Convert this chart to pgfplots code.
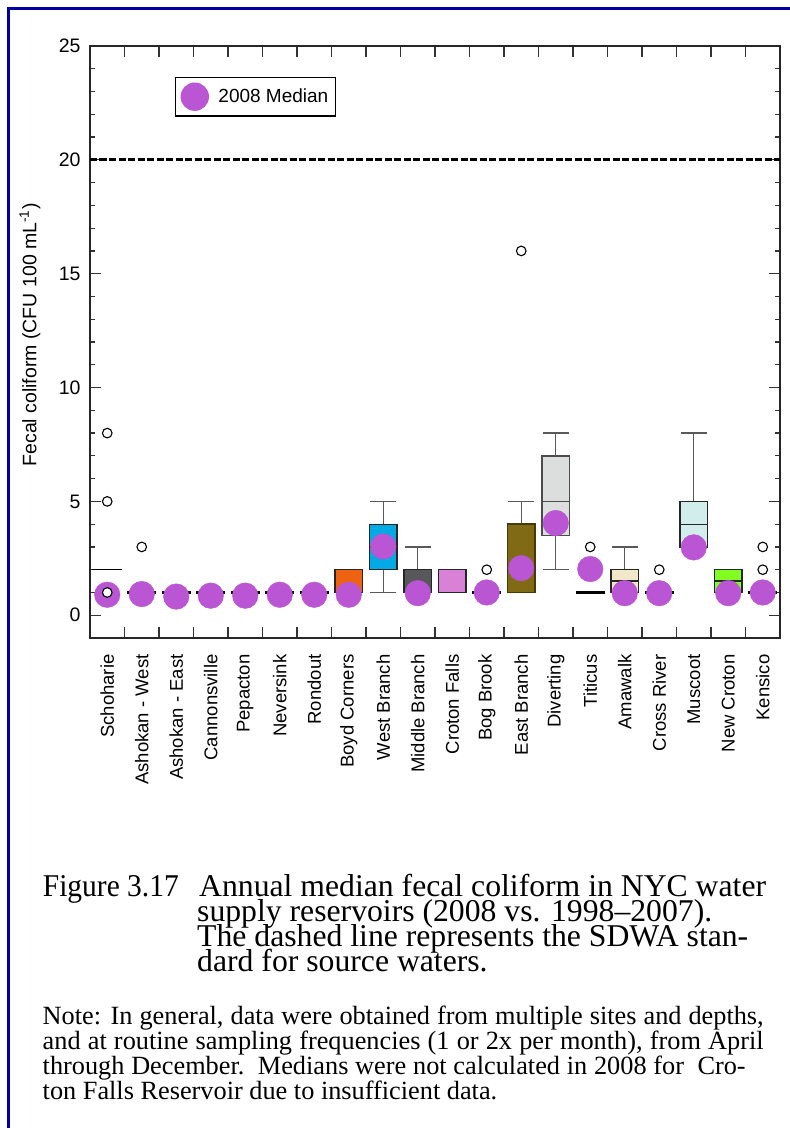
\documentclass[border=0pt]{standalone}
\usepackage{fontspec}
\setmainfont{Liberation Sans}
\newfontfamily\seriffont[Ligatures=TeX]{Liberation Serif}
\usepackage{pgfplots}
\usepgfplotslibrary{statistics}
\pgfplotsset{compat=1.18}
\definecolor{frameblue}{RGB}{0,0,160}
\definecolor{orchidc}{RGB}{186,85,211}
\definecolor{boyd}{RGB}{238,99,17}
\definecolor{westb}{RGB}{0,170,228}
\definecolor{midb}{RGB}{88,88,90}
\definecolor{crotonf}{RGB}{217,129,214}
\definecolor{eastb}{RGB}{128,106,20}
\definecolor{eastbd}{RGB}{70,58,10}
\definecolor{divert}{RGB}{220,222,221}
\definecolor{amaw}{RGB}{240,232,201}
\definecolor{musc}{RGB}{210,238,236}
\definecolor{newcr}{RGB}{128,255,32}
\begin{document}
\begin{tikzpicture}[x=1pt,y=1pt]
\path[use as bounding box] (0pt,0pt) rectangle (790pt,-1128pt);
\draw[frameblue, line width=3pt] (8pt,-1140pt) -- (8pt,-8.5pt) -- (800pt,-8.5pt);
\begin{axis}[
  at={(90pt,-638pt)}, anchor=south west, scale only axis,
  width=690pt, height=592pt,
  xmin=0.5, xmax=20.5, ymin=-1, ymax=25,
  xtick={1.5,2.5,...,19.5}, xticklabels={},
  extra x ticks={1,2,...,20},
  extra x tick labels={Schoharie,Ashokan - West,Ashokan - East,Cannonsville,Pepacton,Neversink,Rondout,Boyd Corners,West Branch,Middle Branch,Croton Falls,Bog Brook,East Branch,Diverting,Titicus,Amawalk,Cross River,Muscoot,New Croton,Kensico},
  extra x tick style={major tick length=0pt, tick label style={rotate=90, anchor=east, font=\fontsize{18.5}{20}\selectfont}},
  xticklabel shift=13pt,
  ytick={0,5,...,25}, minor y tick num=4,
  tick align=inside, major tick length=10.7pt, minor tick length=5.5pt,
  axis line style={black!85, line width=1.3pt},
  tick style={black!80, line width=1.2pt},
  yticklabel style={font=\fontsize{19.5}{22}\selectfont, xshift=-6pt},
  /pgf/number format/assume math mode=true,
  ylabel={Fecal coliform (CFU 100 mL\textsuperscript{-1})},
  ylabel style={font=\fontsize{19.5}{22}\selectfont, at={(axis description cs:-0.087,0.512)}, anchor=center},
  legend style={at={(0.123,0.948)}, anchor=north west, draw=black, line width=1.4pt,
    inner xsep=5pt, inner ysep=5pt, font=\fontsize{19}{22}\selectfont},
  legend image code/.code={\fill[orchidc] (10pt,0pt) circle (13.5pt); \path (31pt,0pt);},
  boxplot/draw direction=y,
  boxplot/every whisker/.style={draw=black!65, line width=1.3pt},
  boxplot/every median/.style={line width=1.3pt},
]
% boxes
\addplot[forget plot, draw=black!85, fill=boyd, line width=1.3pt,
  boxplot prepared={draw position=8, lower whisker=1, lower quartile=1, median=1, upper quartile=2, upper whisker=2, box extend=0.8, whisker extend=0.75, every whisker/.style={draw=none}}] coordinates {};
\addplot[forget plot, draw=black!85, fill=westb, line width=1.3pt,
  boxplot prepared={draw position=9, lower whisker=1, lower quartile=2, median=3, upper quartile=4, upper whisker=5, box extend=0.8, whisker extend=0.75}] coordinates {};
\addplot[forget plot, draw=black!85, fill=midb, line width=1.3pt,
  boxplot prepared={draw position=10, lower whisker=1, lower quartile=1, median=1, upper quartile=2, upper whisker=3, box extend=0.8, whisker extend=0.75}] coordinates {};
\addplot[forget plot, draw=black!85, fill=crotonf, line width=1.3pt,
  boxplot prepared={draw position=11, lower whisker=1, lower quartile=1, median=1, upper quartile=2, upper whisker=2, box extend=0.8, whisker extend=0.75, every whisker/.style={draw=none}}] coordinates {};
\addplot[forget plot, draw=eastbd, fill=eastb, line width=1.5pt,
  boxplot prepared={draw position=13, lower whisker=1, lower quartile=1, median=1, upper quartile=4, upper whisker=5, box extend=0.8, whisker extend=0.75}] coordinates {};
\addplot[forget plot, draw=black!70, fill=divert, line width=1.3pt,
  boxplot prepared={draw position=14, lower whisker=2, lower quartile=3.5, median=5, upper quartile=7, upper whisker=8, box extend=0.8, whisker extend=0.75}] coordinates {};
\addplot[forget plot, draw=black!85, fill=amaw, line width=1.3pt,
  boxplot prepared={draw position=16, lower whisker=1, lower quartile=1, median=1.5, upper quartile=2, upper whisker=3, box extend=0.8, whisker extend=0.75}] coordinates {};
\addplot[forget plot, draw=black!85, fill=musc, line width=1.3pt,
  boxplot prepared={draw position=18, lower whisker=3, lower quartile=3, median=4, upper quartile=5, upper whisker=8, box extend=0.8, whisker extend=0.75}] coordinates {};
\addplot[forget plot, draw=black!85, fill=newcr, line width=1.3pt,
  boxplot prepared={draw position=19, lower whisker=1, lower quartile=1, median=1.5, upper quartile=2, upper whisker=2, box extend=0.8, whisker extend=0.75, every whisker/.style={draw=none}}] coordinates {};
% SDWA standard
\addplot[forget plot, black, line width=3pt, dash pattern=on 7pt off 2.5pt] coordinates {(0.5,20) (20.5,20)};
% 2008 medians
\addplot[only marks, mark=*, mark size=12.8pt, color=orchidc, mark options={draw=none, fill=orchidc}]
  coordinates {(1,0.90) (2,0.93) (3,0.82) (4,0.86) (5,0.86) (6,0.90) (7,0.90) (8,0.90) (9,3.02) (10,0.97)
               (12,1.0) (13,2.07) (14,4.05) (15,2.03) (16,0.97) (17,0.97) (18,2.98) (19,0.97) (20,1.0)};
\addlegendentry{2008 Median}
% single-value medians
\addplot[forget plot, black, line width=1.2pt] coordinates {(0.55,2) (1.43,2)};
\addplot[forget plot, black, line width=2.2pt] coordinates {(1.58,1) (2.42,1)};
\addplot[forget plot, black, line width=2.2pt] coordinates {(2.58,1) (3.42,1)};
\addplot[forget plot, black, line width=2.2pt] coordinates {(3.58,1) (4.42,1)};
\addplot[forget plot, black, line width=2.2pt] coordinates {(4.58,1) (5.42,1)};
\addplot[forget plot, black, line width=2.2pt] coordinates {(5.58,1) (6.42,1)};
\addplot[forget plot, black, line width=2.2pt] coordinates {(6.58,1) (7.42,1)};
\addplot[forget plot, black, line width=2.2pt] coordinates {(11.58,1) (12.42,1)};
\addplot[forget plot, black, line width=2.2pt] coordinates {(14.58,1) (15.42,1)};
\addplot[forget plot, black, line width=2.2pt] coordinates {(16.58,1) (17.42,1)};
\addplot[forget plot, black, line width=2.2pt] coordinates {(19.58,1) (20.42,1)};
% outliers
\addplot[forget plot, only marks, mark=*, mark size=4.8pt, mark options={fill=white, draw=black, line width=1.1pt}]
  coordinates {(1,8) (1,5) (1,1) (2,3) (12,2) (13,16) (15,3) (17,2) (20,2) (20,3)};
\end{axis}
\begin{scope}[every node/.style={anchor=base west, inner sep=0pt}]
\node[font=\seriffont\fontsize{31.7}{31.7}\selectfont] at (42.7pt,-896.7pt) {\scalebox{0.93}[1]{Figure 3.17}};
\node[font=\seriffont\fontsize{31.7}{31.7}\selectfont] at (199pt,-896.7pt) {Annual median fecal coliform in NYC water};
\node[font=\seriffont\fontsize{31.7}{31.7}\selectfont] at (197pt,-921.5pt) {supply reservoirs (2008 vs. 1998–2007).};
\node[font=\seriffont\fontsize{31.7}{31.7}\selectfont] at (197pt,-946.5pt) {The dashed line represents the SDWA stan-};
\node[font=\seriffont\fontsize{31.7}{31.7}\selectfont] at (197pt,-971.5pt) {dard for source waters.};
\node[font=\seriffont\fontsize{26.3}{26.3}\selectfont] at (42.5pt,-1024pt) {\makebox[721pt][s]{Note: In general, data were obtained from multiple sites and depths,}};
\node[font=\seriffont\fontsize{26.3}{26.3}\selectfont] at (42.5pt,-1049pt) {\makebox[721pt][s]{and at routine sampling frequencies (1 or 2x per month), from April}};
\node[font=\seriffont\fontsize{26.3}{26.3}\selectfont] at (42.5pt,-1074pt) {\makebox[703pt][s]{through December.~~Medians were not calculated in 2008 for~~Cro-}};
\node[font=\seriffont\fontsize{26.3}{26.3}\selectfont] at (42.5pt,-1099pt) {ton Falls Reservoir due to insufficient data.};
\end{scope}
\end{tikzpicture}
\end{document}
